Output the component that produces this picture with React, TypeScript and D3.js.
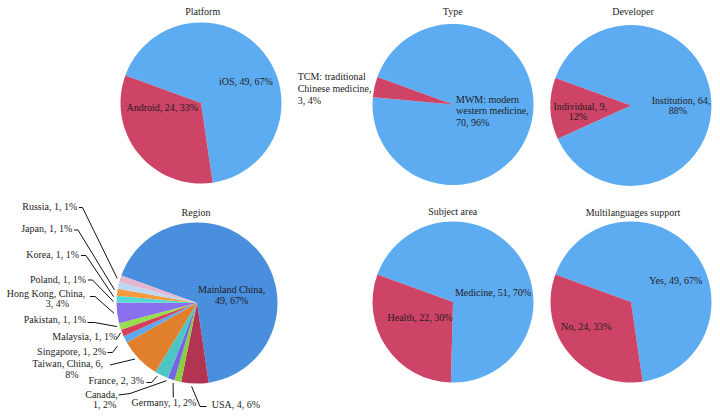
import React from "react";
import * as d3 from "d3";

// ---------- DATA ----------
const platformNames = ["iOS", "Android"];
const platformValues = [49, 24];
const platformPcts = ["67%", "33%"];

const typeNames = ["MWM: modern western medicine", "TCM: traditional Chinese medicine"];
const typeValues = [70, 3];
const typePcts = ["96%", "4%"];

const developerNames = ["Institution", "Individual"];
const developerValues = [64, 9];
const developerPcts = ["88%", "12%"];

const subjectNames = ["Medicine", "Health"];
const subjectValues = [51, 22];
const subjectPcts = ["70%", "30%"];

const multiNames = ["Yes", "No"];
const multiValues = [49, 24];
const multiPcts = ["67%", "33%"];

const regionNames = [
  "Mainland China", "USA", "Germany", "Canada", "France", "Taiwan, China",
  "Singapore", "Malaysia", "Pakistan", "Hong Kong, China", "Poland", "Korea", "Japan", "Russia",
];
const regionValues = [49, 4, 1, 1, 2, 6, 1, 1, 1, 3, 1, 1, 1, 1];
const regionPcts = ["67%", "6%", "2%", "2%", "3%", "8%", "2%", "1%", "1%", "4%", "1%", "1%", "1%", "1%"];

// ---------- STYLE ----------
const twoColors = ["#5DACF2", "#CD4466"];
const regionColors = [
  "#4A8FDD", "#B23452", "#8ACF3F", "#7465E3", "#4CC6C4", "#E0802C", "#5BAAF0",
  "#D5405F", "#96DF4C", "#8A6FEE", "#55D9D6", "#F79A3E", "#BCD6F3", "#E5B5D0",
];
const FONT = "'Liberation Serif', 'Times New Roman', serif";
const TEXT = "#1d1d1d";
const LABEL_SIZE = 10;
const deg = Math.PI / 180;

type Label = {
  x?: number;
  xs?: number[];
  y: number;
  anchor?: "start" | "middle" | "end";
  split?: number[];
  lh?: number;
  leader?: { pts: [number, number][]; rOff?: number; angOff?: number };
};

type Chart = {
  title: string;
  names: string[];
  values: number[];
  pcts: string[];
  colors: string[];
  cx: number;
  cy: number;
  r: number;
  titleX: number;
  titleY: number;
  labels: Label[];
};

const charts: Chart[] = [
  {
    title: "Platform", names: platformNames, values: platformValues, pcts: platformPcts, colors: twoColors,
    cx: 201, cy: 103, r: 80.5, titleX: 202.7, titleY: 11.7,
    labels: [
      { x: 246, y: 81 },
      { x: 162.3, y: 107.3 },
    ],
  },
  {
    title: "Type", names: typeNames, values: typeValues, pcts: typePcts, colors: twoColors,
    cx: 453, cy: 104.5, r: 80.5, titleX: 452.7, titleY: 11.7,
    labels: [
      { x: 456, y: 99, anchor: "start", split: [2, 2, 2], lh: 11.5 },
      { x: 297.7, y: 76.7, anchor: "start", split: [2, 2, 2], lh: 12 },
    ],
  },
  {
    title: "Developer", names: developerNames, values: developerValues, pcts: developerPcts, colors: twoColors,
    cx: 631, cy: 105.5, r: 80.5, titleX: 633, titleY: 11.7,
    labels: [
      { xs: [681, 678], y: 100, split: [2, 1], lh: 10 },
      { xs: [580.3, 578], y: 106.7, split: [2, 1], lh: 10 },
    ],
  },
  {
    title: "Region", names: regionNames, values: regionValues, pcts: regionPcts, colors: regionColors,
    cx: 197, cy: 303, r: 80.5, titleX: 196, titleY: 212,
    labels: [
      { xs: [231.7, 231.7], y: 289, split: [2, 2], lh: 11 },
      { x: 211.7, y: 404.3, anchor: "start", leader: { pts: [[206.5, 406.5], [200, 406.5]], angOff: 2.2 } },
      { x: 164, y: 402.3, leader: { pts: [[173.3, 397.5]], angOff: 2.8 } },
      { xs: [101.5, 104.7], y: 394, split: [1, 2], lh: 10.5, leader: { pts: [[118.5, 395], [130, 393.5]], angOff: 2.7 } },
      { x: 144, y: 380.7, anchor: "end", leader: { pts: [[146.5, 382.5], [151.5, 382.5]], angOff: 2.5 } },
      { xs: [67.7, 72], y: 363.3, split: [3, 1], lh: 10.7, leader: { pts: [[110, 365]], angOff: 2 } },
      { x: 106, y: 351, anchor: "end", leader: { pts: [[107.5, 352.5], [112.5, 352.5]], rOff: 10, angOff: -1.6 } },
      { x: 117.3, y: 336.7, anchor: "end", leader: { pts: [[117, 338.5]], rOff: 1.5, angOff: 0.6 } },
      { x: 86, y: 319.3, anchor: "end", leader: { pts: [[87.5, 322.5], [94.5, 322.5]], angOff: 0.6 } },
      { xs: [46, 57.5], y: 293.3, split: [3, 2], lh: 10, leader: { pts: [[90, 296.5], [95, 296.5]] } },
      { x: 86, y: 279, anchor: "end", leader: { pts: [[88, 280], [92.5, 280]], angOff: -1.8 } },
      { x: 79, y: 254, anchor: "end", leader: { pts: [[81, 255.5], [86, 255.5]], angOff: -3.4 } },
      { x: 72.3, y: 228.7, anchor: "end", leader: { pts: [[74, 230], [78, 230]], angOff: -3.6 } },
      { x: 77.3, y: 206, anchor: "end", leader: { pts: [[79, 207.5], [82.5, 207.5]], angOff: -0.4 } },
    ],
  },
  {
    title: "Subject area", names: subjectNames, values: subjectValues, pcts: subjectPcts, colors: twoColors,
    cx: 453, cy: 302, r: 80.5, titleX: 452.7, titleY: 211.7,
    labels: [
      { x: 493, y: 292.7 },
      { x: 420, y: 317 },
    ],
  },
  {
    title: "Multilanguages support", names: multiNames, values: multiValues, pcts: multiPcts, colors: twoColors,
    cx: 631, cy: 302, r: 80.5, titleX: 633, titleY: 212,
    labels: [
      { x: 675.8, y: 280.3 },
      { x: 586.3, y: 326 },
    ],
  },
];

function splitLines(text: string, split?: number[]): string[] {
  const words = text.split(" ");
  if (!split) return [text];
  const out: string[] = [];
  let i = 0;
  for (const n of split) {
    out.push(words.slice(i, i + n).join(" "));
    i += n;
  }
  return out;
}

function PieChart({ c }: { c: Chart }) {
  const pie = d3
    .pie<number>()
    .sort(null)
    .value((d) => d)
    .startAngle(-70 * deg)
    .endAngle(290 * deg);
  const arcs = pie(c.values);
  const arc = d3.arc<d3.PieArcDatum<number>>().innerRadius(0).outerRadius(c.r);
  const line = d3.line<[number, number]>();

  return (
    <g>
      <text
        x={c.titleX}
        y={c.titleY}
        textAnchor="middle"
        dominantBaseline="central"
        fontFamily={FONT}
        fontSize={10}
        fill={TEXT}
      >
        {c.title}
      </text>
      <g transform={`translate(${c.cx},${c.cy})`}>
        {arcs.map((a, i) => (
          <path key={i} d={arc(a) || ""} fill={c.colors[i % c.colors.length]} />
        ))}
      </g>
      {arcs.map((a, i) => {
        const lab = c.labels[i];
        if (!lab) return null;
        const text = `${c.names[i]}, ${c.values[i]}, ${c.pcts[i]}`;
        const lines = splitLines(text, lab.split);
        const lh = lab.lh ?? 10.8;
        const anchor = lab.anchor ?? "middle";
        let leader = null;
        if (lab.leader) {
          const mid = (a.startAngle + a.endAngle) / 2 + (lab.leader.angOff ?? 0) * deg;
          const R = c.r + (lab.leader.rOff ?? 3);
          const end: [number, number] = [c.cx + R * Math.sin(mid), c.cy - R * Math.cos(mid)];
          const pts = [...lab.leader.pts, end] as [number, number][];
          leader = <path d={line(pts) || ""} fill="none" stroke="#111" strokeWidth={1} />;
        }
        return (
          <g key={`l${i}`}>
            {leader}
            {lines.map((s, j) => (
              <text
                key={j}
                x={lab.xs ? lab.xs[j] : lab.x}
                y={lab.y + j * lh}
                textAnchor={anchor}
                dominantBaseline="central"
                fontFamily={FONT}
                fontSize={LABEL_SIZE}
                fill={TEXT}
              >
                {s}
              </text>
            ))}
          </g>
        );
      })}
    </g>
  );
}

export default function App() {
  return (
    <svg
      width={720}
      height={418}
      viewBox="0 0 720 418"
      style={{ position: "absolute", left: 0, top: 0, background: "#fff" }}
    >
      <rect width={720} height={418} fill="#fff" />
      {charts.map((c) => (
        <PieChart key={c.title} c={c} />
      ))}
    </svg>
  );
}
